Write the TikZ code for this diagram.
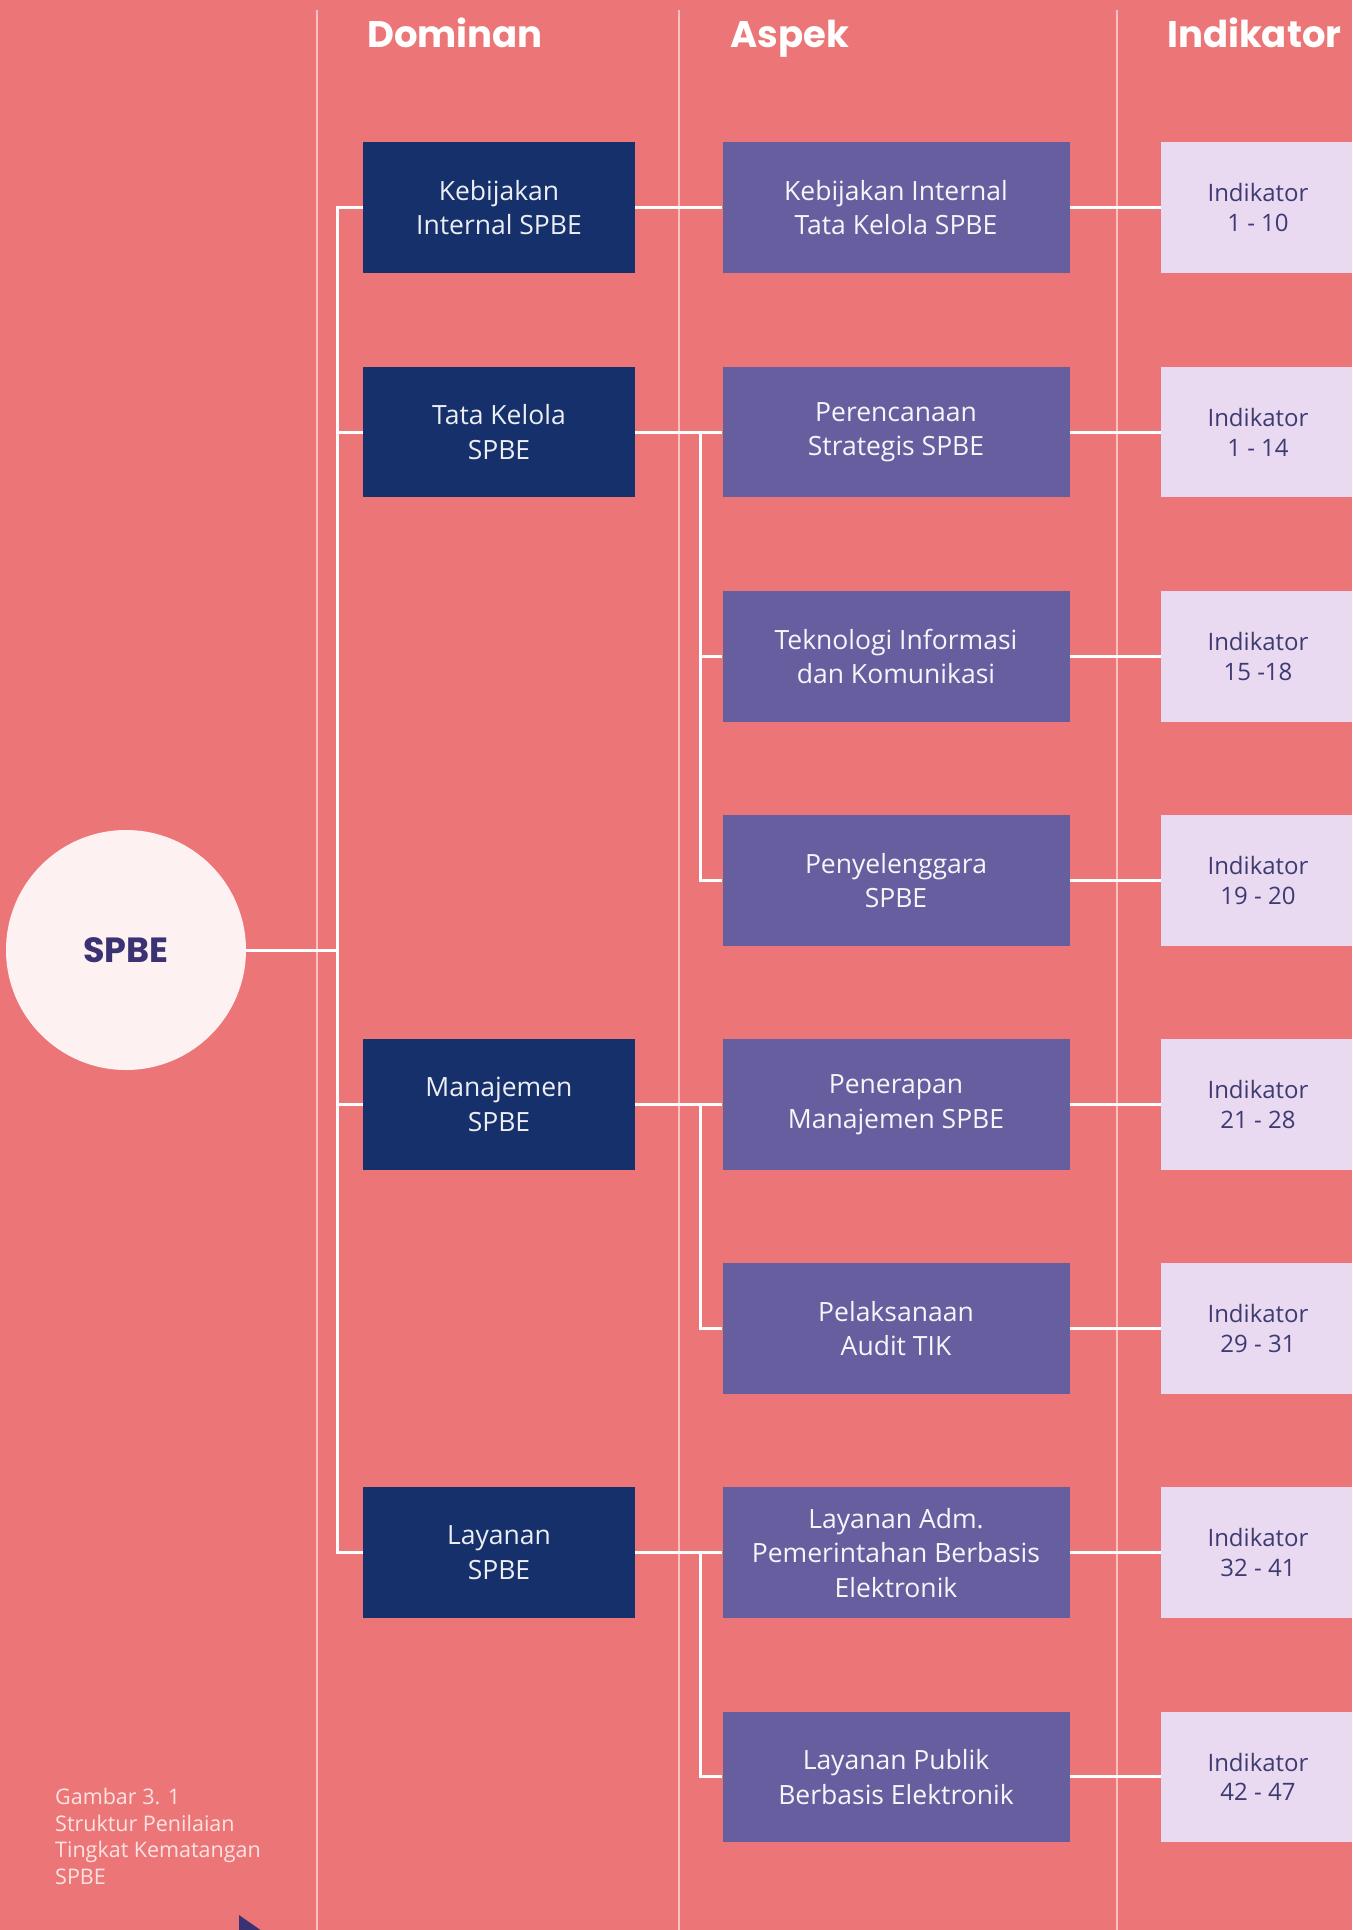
\documentclass[tikz,border=0pt]{standalone}
\usepackage{fontspec}
\setmainfont{Open Sans}
\newfontfamily\headfont{Poppins}
\usetikzlibrary{positioning}

\definecolor{bgred}{HTML}{EC7677}
\definecolor{domblue}{HTML}{15306A}
\definecolor{asppurple}{HTML}{675E9F}
\definecolor{indlilac}{HTML}{E9DAF1}
\definecolor{indtext}{HTML}{3E3A72}
\definecolor{circfill}{HTML}{FDF1F1}
\definecolor{spbetext}{HTML}{3A3272}
\definecolor{captext}{HTML}{FCE3E2}

\tikzset{
  conn/.style={draw=white, line width=3pt},
  colline/.style={draw=white!55!bgred, line width=1.8pt},
  headtext/.style={anchor=base west, inner sep=0pt, text=white,
    font=\headfont\bfseries\fontsize{37}{40}\selectfont},
  spbecirc/.style={circle, fill=circfill, minimum size=240pt, text=spbetext,
    font=\headfont\bfseries\fontsize{35}{38}\selectfont},
  dombox/.style={fill=domblue, text=white!92!domblue, minimum width=272pt,
    minimum height=130.5pt, align=center, font=\fontsize{26.5}{34.5}\selectfont},
  aspbox/.style={fill=asppurple, text=white!94!asppurple, minimum width=347pt,
    minimum height=130.5pt, align=center, font=\fontsize{26.5}{34.5}\selectfont},
  indbox/.style={fill=indlilac, text=indtext, minimum width=194pt,
    minimum height=130.5pt, align=center, font=\fontsize{24}{29.5}\selectfont},
}

\begin{document}
\begin{tikzpicture}[x=1pt,y=-1pt]
  \useasboundingbox (0,0) rectangle (1352,1930);
  \clip (0,0) rectangle (1352,1930);
  \fill[bgred] (0,0) rectangle (1352,1930);

  % column lines
  \draw[colline] (317,10) -- (317,1930);
  \draw[colline] (679,10) -- (679,1930);
  \draw[colline] (1117,10) -- (1117,1930);

  \node[headtext] (hdom) at (367,47) {Dominan};
  \node[headtext] (hasp) at (730,47) {Aspek};
  \node[headtext] (hind) at (1167,47) {Indikator};

  \node[spbecirc] (spbe) at (126,950) {SPBE};

  \node[dombox] (dom1) at (499,207.5) {Kebijakan\\Internal SPBE};
  \node[dombox] (dom2) at (499,432.2) {Tata Kelola\\SPBE};
  \node[dombox] (dom3) at (499,1104.5) {Manajemen\\SPBE};
  \node[dombox] (dom4) at (499,1552.7) {Layanan\\SPBE};

  \node[aspbox] (asp1) at (896,207.5) {Kebijakan Internal\\Tata Kelola SPBE};
  \node[aspbox] (asp2) at (896,432.2) {Perencanaan\\Strategis SPBE};
  \node[aspbox] (asp3) at (896,656.3) {Teknologi Informasi\\dan Komunikasi};
  \node[aspbox] (asp4) at (896,880.4) {Penyelenggara\\SPBE};
  \node[aspbox] (asp5) at (896,1104.5) {Penerapan\\Manajemen SPBE};
  \node[aspbox] (asp6) at (896,1328.6) {Pelaksanaan\\Audit TIK};
  \node[aspbox] (asp7) at (896,1552.7) {Layanan Adm.\\Pemerintahan Berbasis\\Elektronik};
  \node[aspbox] (asp8) at (896,1776.8) {Layanan Publik\\Berbasis Elektronik};

  \node[indbox] (ind1) at (1258,207.5) {Indikator\\1 - 10};
  \node[indbox] (ind2) at (1258,432.2) {Indikator\\1 - 14};
  \node[indbox] (ind3) at (1258,656.3) {Indikator\\15 -18};
  \node[indbox] (ind4) at (1258,880.4) {Indikator\\19 - 20};
  \node[indbox] (ind5) at (1258,1104.5) {Indikator\\21 - 28};
  \node[indbox] (ind6) at (1258,1328.6) {Indikator\\29 - 31};
  \node[indbox] (ind7) at (1258,1552.7) {Indikator\\32 - 41};
  \node[indbox] (ind8) at (1258,1776.8) {Indikator\\42 - 47};

  \coordinate (trunk) at (337,0);
  \coordinate (bus) at (700,0);

  \draw[conn] (spbe.east) -- (spbe.east -| trunk);
  \draw[conn] (dom1.west) -- (dom1.west -| trunk) -- (dom4.west -| trunk) -- (dom4.west);
  \draw[conn] (dom2.west -| trunk) -- (dom2.west);
  \draw[conn] (dom3.west -| trunk) -- (dom3.west);

  \draw[conn] (dom1.east) -- (asp1.west);
  \draw[conn] (dom2.east) -- (asp2.west);
  \draw[conn] (asp2.west -| bus) |- (asp4.west);
  \draw[conn] (asp3.west -| bus) -- (asp3.west);
  \draw[conn] (dom3.east) -- (asp5.west);
  \draw[conn] (asp5.west -| bus) |- (asp6.west);
  \draw[conn] (dom4.east) -- (asp7.west);
  \draw[conn] (asp7.west -| bus) |- (asp8.west);

  \draw[conn] (asp1.east) -- (ind1.west);
  \draw[conn] (asp2.east) -- (ind2.west);
  \draw[conn] (asp3.east) -- (ind3.west);
  \draw[conn] (asp4.east) -- (ind4.west);
  \draw[conn] (asp5.east) -- (ind5.west);
  \draw[conn] (asp6.east) -- (ind6.west);
  \draw[conn] (asp7.east) -- (ind7.west);
  \draw[conn] (asp8.east) -- (ind8.west);

  \node[anchor=north west, inner sep=0pt, align=left, text=captext,
    font=\fontsize{21.5}{26.7}\selectfont] (caption) at (55,1788)
    {Gambar 3. 1\\Struktur Penilaian\\Tingkat Kematangan\\SPBE};

  \fill[spbetext] (239,1915) -- (262,1931) -- (239,1947) -- cycle;
\end{tikzpicture}
\end{document}
